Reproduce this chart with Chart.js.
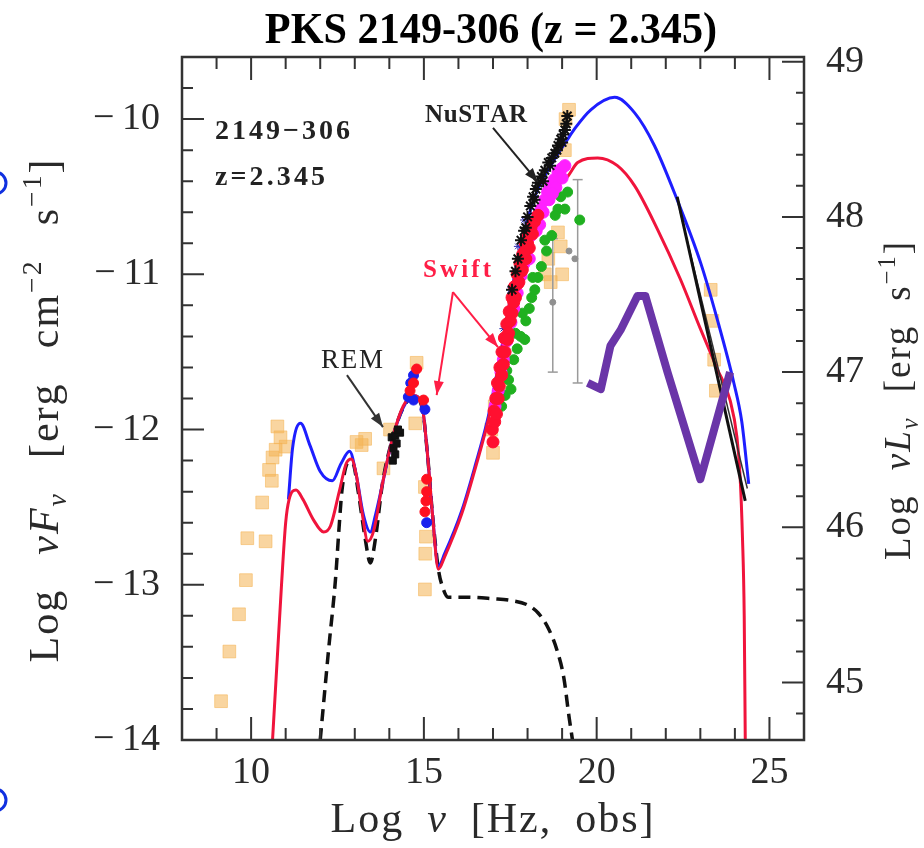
<!DOCTYPE html>
<html>
<head>
<meta charset="utf-8">
<script src="https://cdn.jsdelivr.net/npm/chart.js@4.4.1/dist/chart.umd.min.js"></script>
<style>
  html, body { margin: 0; padding: 0; background: #fff; }
  #wrap { width: 924px; height: 848px; position: relative; }
</style>
</head>
<body>
<div id="wrap"><canvas id="sedChart"></canvas></div>
<script>
// values, all in log10
const xTickValues = [10, 15, 20, 25];
const yTickValues = [-14, -13, -12, -11, -10];
const lumTickValues = [45, 46, 47, 48, 49];
const lumOffset = 58.63; // Log nuL_nu - Log nuF_nu

// model curves [log nu, log nuFnu]
const blueModel = [
  [11.08, -12.45], [11.2, -12.12], [11.43, -11.96], [11.7, -12.1], [12.0, -12.27], [12.35, -12.33],
  [12.6, -12.22], [12.85, -12.14], [13.05, -12.3], [13.25, -12.55], [13.45, -12.66], [13.6, -12.55],
  [13.85, -12.3], [14.1, -12.05], [14.4, -11.86], [14.7, -11.78], [14.95, -11.85], [15.1, -12.15],
  [15.25, -12.55], [15.42, -12.88], [15.6, -12.8], [16.1, -12.52], [16.5, -12.22], [16.86, -11.92],
  [17.23, -11.5], [17.72, -10.9], [18.21, -10.5], [18.67, -10.3], [19.16, -10.13], [19.37, -10.06],
  [19.83, -9.94], [20.52, -9.86], [21.1, -9.96], [21.67, -10.17], [22.33, -10.52], [23.0, -10.92],
  [23.49, -11.29], [23.97, -11.7], [24.2, -11.95], [24.4, -12.35]
];
const redModel = [
  [10.62, -14.0], [10.75, -13.5], [10.88, -13.0], [11.0, -12.6], [11.1, -12.45], [11.3, -12.39],
  [11.5, -12.45], [11.8, -12.58], [12.1, -12.66], [12.3, -12.62], [12.55, -12.4], [12.75, -12.22],
  [12.9, -12.19], [13.05, -12.3], [13.2, -12.52], [13.38, -12.72], [13.55, -12.65], [13.8, -12.35],
  [14.1, -12.05], [14.4, -11.85], [14.7, -11.78], [14.95, -11.85], [15.1, -12.15], [15.25, -12.55],
  [15.42, -12.9], [15.6, -12.82], [16.1, -12.54], [16.5, -12.24], [16.86, -11.94], [17.23, -11.53],
  [17.72, -10.97], [18.2, -10.64], [18.7, -10.46], [19.16, -10.37], [19.45, -10.28], [20.03, -10.25],
  [20.6, -10.3], [21.1, -10.43], [21.76, -10.71], [22.42, -11.03], [23.0, -11.35], [23.49, -11.61],
  [23.86, -11.81], [24.06, -12.05], [24.15, -12.3], [24.22, -12.7], [24.27, -13.2], [24.3, -14.0]
];
const diskTorus = [
  [12.0, -14.0], [12.25, -13.4], [12.44, -12.97], [12.54, -12.65], [12.63, -12.39], [12.82, -12.21],
  [12.95, -12.22], [13.1, -12.4], [13.3, -12.7], [13.45, -12.86], [13.6, -12.7], [13.8, -12.35],
  [14.1, -12.05], [14.4, -11.86], [14.7, -11.79], [14.95, -11.86], [15.1, -12.15], [15.25, -12.55],
  [15.42, -12.9], [15.55, -13.02], [15.7, -13.08], [16.2, -13.08], [17.0, -13.09], [17.5, -13.1],
  [18.0, -13.13], [18.3, -13.18], [18.6, -13.28], [18.85, -13.42], [19.05, -13.6], [19.2, -13.85], [19.3, -14.0]
];
const fermiBowtie = [[22.33, -10.5], [24.3, -12.46]];
const fermiBowtie2 = [[22.4, -10.58], [24.36, -12.38]];
const purpleLine = [
  [19.74, -11.7], [20.12, -11.74], [20.4, -11.46], [20.69, -11.36], [21.18, -11.14], [21.41, -11.14],
  [22.05, -11.63], [23.0, -12.32], [23.4, -12.0], [23.86, -11.63]
];

// data points
const archival = [
  [9.13, -13.75], [9.37, -13.43], [9.65, -13.19], [9.85, -12.97], [9.89, -12.7], [10.42, -12.72],
  [10.32, -12.47], [10.52, -12.26], [10.62, -12.18], [10.71, -12.13], [10.76, -11.98], [11.0, -12.11],
  [10.85, -12.05], [10.6, -12.33], [13.05, -12.08], [13.2, -12.1], [13.3, -12.06], [13.83, -12.25],
  [14.02, -12.0], [14.75, -11.96], [14.79, -11.57], [15.03, -12.37], [15.06, -12.69], [15.04, -12.8],
  [15.03, -13.03], [16.95, -12.0], [17.0, -12.15], [17.05, -11.85], [17.3, -11.7], [18.5, -11.0],
  [18.6, -10.9], [18.88, -10.73], [18.96, -10.82], [19.0, -11.0], [18.67, -11.05], [19.1, -10.0],
  [19.2, -9.94], [19.08, -10.2], [23.3, -11.1], [23.35, -11.3], [23.4, -11.55], [23.45, -11.75]
];
const remPts = [
  [14.07, -12.05], [14.12, -12.12], [14.17, -12.04], [14.21, -12.09], [14.17, -12.16], [14.31, -12.02],
  [14.25, -12.0], [14.1, -12.2]
];
const uvotRed = [
  [14.79, -11.61], [14.7, -11.7], [14.6, -11.75], [14.99, -11.81], [15.08, -12.32], [15.08, -12.4],
  [15.06, -12.46], [15.03, -12.53]
];
const uvotBlue = [[14.7, -11.65], [14.55, -11.79], [14.7, -11.81], [15.03, -11.87], [15.08, -12.6], [14.62, -11.7]];
const xrtPts = [
  [16.98, -12.0], [17.03, -11.88], [17.08, -11.8], [17.13, -11.7], [17.2, -11.6], [17.26, -11.5],
  [17.33, -11.41], [17.4, -11.32], [17.47, -11.24], [17.55, -11.15], [17.62, -11.08], [17.7, -11.0],
  [17.78, -10.93], [17.86, -10.87], [17.93, -10.8], [18.02, -10.75], [18.1, -10.7], [18.2, -10.66],
  [18.3, -10.62], [17.05, -11.95], [17.15, -11.8], [17.25, -11.65], [17.35, -11.5], [17.45, -11.38],
  [17.55, -11.25], [17.65, -11.15], [17.75, -11.05], [17.85, -10.97], [17.95, -10.9], [18.05, -10.83],
  [17.0, -12.08], [17.1, -11.9], [17.18, -11.72], [17.3, -11.58], [17.42, -11.42], [17.5, -11.3],
  [17.6, -11.18], [17.72, -11.06], [17.82, -10.98], [17.9, -10.86], [18.0, -10.8], [18.14, -10.74]
];
const magentaPts = [
  [17.06, -11.85], [17.15, -11.75], [17.23, -11.63], [17.3, -11.55], [17.4, -11.43], [17.52, -11.31],
  [17.6, -11.22], [17.7, -11.12], [17.81, -11.01], [17.9, -10.93], [18.0, -10.84], [18.1, -10.75],
  [18.2, -10.68], [18.3, -10.62], [18.39, -10.58], [18.5, -10.52], [18.58, -10.47], [18.67, -10.43],
  [18.77, -10.39], [18.88, -10.34], [18.98, -10.32], [19.08, -10.3], [18.25, -10.72], [18.45, -10.6],
  [18.62, -10.52], [18.82, -10.44], [19.0, -10.38], [18.05, -10.9], [18.35, -10.68], [18.72, -10.48]
];
const nustarPts = [
  [17.55, -11.1], [17.65, -10.98], [17.72, -10.9], [17.81, -10.78], [17.9, -10.72], [18.0, -10.63],
  [18.08, -10.56], [18.16, -10.5], [18.24, -10.45], [18.3, -10.41], [18.4, -10.37], [18.5, -10.33],
  [18.6, -10.28], [18.7, -10.25], [18.79, -10.22], [18.88, -10.17], [18.96, -10.13], [19.03, -10.1],
  [19.08, -10.07], [19.12, -10.03], [19.15, -9.98], [18.45, -10.4], [18.65, -10.3], [18.85, -10.2],
  [19.0, -10.15], [18.2, -10.52], [17.95, -10.7]
];
const batBluePts = [[17.2, -11.5], [17.3, -11.35], [17.5, -11.1], [17.72, -10.82], [17.9, -10.65]];
const greenPts = [
  [17.25, -11.85], [17.35, -11.78], [17.45, -11.68], [17.52, -11.74], [17.6, -11.55], [17.7, -11.48],
  [17.8, -11.4], [17.92, -11.42], [17.95, -11.3], [18.05, -11.22], [18.12, -11.15], [18.21, -11.1],
  [18.3, -11.02], [18.4, -10.95], [18.55, -10.85], [18.7, -10.75], [18.88, -10.58], [18.96, -10.5],
  [19.08, -10.58], [19.16, -10.47], [19.51, -10.65], [17.4, -11.62], [17.65, -11.38], [17.85, -11.25],
  [18.15, -11.02], [18.5, -10.78], [18.8, -10.62]
];
const greyPts = [[18.73, -11.18], [19.37, -10.9], [19.2, -10.85]];
const greyBars = [[18.73, -10.77, -11.63], [19.45, -10.39, -11.7]]; // x, top, bottom

const xy = pts => pts.map(p => ({ x: p[0], y: p[1] }));

function curve(pts, color, width, order, extra) {
  return Object.assign({
    data: xy(pts), showLine: true, borderColor: color, borderWidth: width,
    pointRadius: 0, fill: false, cubicInterpolationMode: 'monotone', order: order
  }, extra || {});
}
function dots(pts, color, style, r, order) {
  return {
    data: xy(pts), showLine: false, pointStyle: style, pointRadius: r,
    backgroundColor: color, borderColor: color, borderWidth: 1, order: order
  };
}

const datasets = [
  Object.assign(dots(nustarPts, '#111', 'star', 6, 1), { borderWidth: 2 }),
  dots(xrtPts, '#ff1030', 'circle', 6, 2),
  dots(magentaPts, '#ff20ff', 'circle', 6, 3),
  dots(batBluePts, '#2a2ab0', 'star', 4, 2),
  dots(greenPts, '#20b020', 'circle', 5, 4),
  dots(greyPts, '#909090', 'circle', 3, 2),
  dots(remPts, '#111', 'rect', 5, 1),
  dots(uvotRed, '#ff1020', 'circle', 5, 1),
  dots(uvotBlue, '#1a20ee', 'circle', 5, 1),
  curve(purpleLine, '#6a35a8', 8, 4, { cubicInterpolationMode: 'default', tension: 0, borderJoinStyle: 'round' }),
  curve(fermiBowtie, '#111', 3, 5, { cubicInterpolationMode: 'default', tension: 0 }),
  curve(fermiBowtie2, '#333', 1.5, 5, { cubicInterpolationMode: 'default', tension: 0 }),
  curve(redModel, '#f0143c', 3, 6),
  curve(blueModel, '#1e1eff', 3, 7),
  curve(diskTorus, '#111', 3.5, 8, { borderDash: [12, 7] }),
  dots(archival, 'rgba(244,178,82,0.55)', 'rect', 9, 10)
];
greyBars.forEach(b => {
  datasets.push({
    data: [{ x: b[0], y: b[1] }, { x: b[0], y: b[2] }], showLine: true,
    borderColor: '#9a9a9a', borderWidth: 1.5, pointStyle: 'line', pointRadius: 5,
    pointBorderColor: '#9a9a9a', pointBorderWidth: 1.5, order: 9
  });
});

// text helpers: runs may be sub/sup (s) or italic (i); extra room goes to the spaces
function drawRich(ctx, runs, size, family, cx, cy, targetW, angle, ls) {
  const parts = [];
  let natural = 0, spaces = 0;
  ls = ls || 0;
  runs.forEach(r => {
    const fs = r.s ? size * 0.66 : size;
    const font = (r.i ? 'italic ' : '') + fs + 'px ' + family;
    ctx.font = font;
    for (const ch of r.t) {
      const w = ctx.measureText(ch).width + ls;
      parts.push({ ch, font, w, dy: r.s === 'sub' ? size * 0.2 : (r.s === 'sup' ? -size * 0.4 : 0) });
      natural += w;
      if (ch === ' ') spaces++;
    }
  });
  const extra = spaces ? Math.max(0, (targetW - natural) / spaces) : 0;
  const total = natural + extra * spaces;
  ctx.save();
  ctx.translate(cx, cy);
  ctx.rotate(angle || 0);
  ctx.textAlign = 'left';
  ctx.textBaseline = 'alphabetic';
  let x = -total / 2;
  parts.forEach(p => {
    ctx.font = p.font;
    ctx.fillText(p.ch, x, size * 0.33 + p.dy);
    x += p.w + (p.ch === ' ' ? extra : 0);
  });
  ctx.restore();
}
function drawSpaced(ctx, text, font, x, y, targetW, align) {
  ctx.font = font;
  const chars = [...text];
  const widths = chars.map(c => ctx.measureText(c).width);
  const natural = widths.reduce((a, b) => a + b, 0);
  const ls = chars.length > 1 ? (targetW - natural) / (chars.length - 1) : 0;
  let px = align === 'center' ? x - targetW / 2 : x;
  ctx.textAlign = 'left';
  ctx.textBaseline = 'alphabetic';
  chars.forEach((c, i) => { ctx.fillText(c, px, y); px += widths[i] + ls; });
}
function arrow(ctx, x1, y1, x2, y2, color, head) {
  ctx.save();
  ctx.strokeStyle = color; ctx.fillStyle = color; ctx.lineWidth = 2;
  ctx.beginPath(); ctx.moveTo(x1, y1); ctx.lineTo(x2, y2); ctx.stroke();
  if (head) {
    const a = Math.atan2(y2 - y1, x2 - x1);
    ctx.beginPath();
    ctx.moveTo(x2, y2);
    ctx.lineTo(x2 - 14 * Math.cos(a) + 5 * Math.sin(a), y2 - 14 * Math.sin(a) - 5 * Math.cos(a));
    ctx.lineTo(x2 - 14 * Math.cos(a) - 5 * Math.sin(a), y2 - 14 * Math.sin(a) + 5 * Math.cos(a));
    ctx.closePath(); ctx.fill();
  }
  ctx.restore();
}

const framePlugin = {
  id: 'sedFrame',
  afterDraw(chart) {
    const ctx = chart.ctx;
    const { left, right, top, bottom } = chart.chartArea;
    const sx = chart.scales.x, sy = chart.scales.y, sy2 = chart.scales.y2;
    const px = v => sx.getPixelForValue(v), py = v => sy.getPixelForValue(v);
    ctx.save();
    // frame + inward ticks
    ctx.strokeStyle = '#333';
    ctx.lineWidth = 2.5;
    ctx.strokeRect(left, top, right - left, bottom - top);
    ctx.lineWidth = 2;
    ctx.beginPath();
    for (let v = 8; v <= 26; v++) {
      const len = xTickValues.includes(v) ? 23 : 12;
      const x = px(v);
      ctx.moveTo(x, bottom); ctx.lineTo(x, bottom - len);
      ctx.moveTo(x, top); ctx.lineTo(x, top + len);
    }
    for (let k = 0; k <= 22; k++) {
      const v = -14 + k * 0.2;
      const major = Math.abs(v - Math.round(v)) < 1e-6;
      const y = py(v);
      ctx.moveTo(left, y); ctx.lineTo(left + (major ? 22 : 11), y);
    }
    for (let k = 0; k <= 21; k++) {
      const v = 44.8 + k * 0.2;
      const major = Math.abs(v - Math.round(v)) < 1e-6;
      const y = sy2.getPixelForValue(v);
      ctx.moveTo(right, y); ctx.lineTo(right - (major ? 22 : 8), y);
    }
    ctx.stroke();

    // title
    ctx.fillStyle = '#000';
    ctx.save();
    ctx.translate(491, 43);
    ctx.scale(0.96, 1);
    ctx.font = 'bold 44px "Liberation Serif"';
    ctx.textAlign = 'center';
    ctx.textBaseline = 'alphabetic';
    ctx.fillText('PKS 2149-306 (z = 2.345)', 0, 0);
    ctx.restore();

    // axis titles
    ctx.fillStyle = '#2a2a2a';
    drawRich(ctx, [{ t: 'Log ' }, { t: '\u03bdF', i: true }, { t: '\u03bd', s: 'sub', i: true }, { t: ' [erg cm' }, { t: '\u22122', s: 'sup' }, { t: ' s' }, { t: '\u22121', s: 'sup' }, { t: ']' }],
      42, '"Liberation Serif"', 44, 410, 505, -Math.PI / 2, 2);
    drawRich(ctx, [{ t: 'Log ' }, { t: '\u03bdL', i: true }, { t: '\u03bd', s: 'sub', i: true }, { t: ' [erg s' }, { t: '\u22121', s: 'sup' }, { t: ']' }],
      37, '"Liberation Serif"', 898, 400, 320, -Math.PI / 2, 2);
    drawRich(ctx, [{ t: 'Log ' }, { t: '\u03bd', i: true }, { t: ' [Hz, obs]' }], 42, '"Liberation Serif"', 493, 818, 325, 0, 2);

    // annotations
    ctx.fillStyle = '#222';
    drawSpaced(ctx, '2149\u2212306', 'bold 28px "Liberation Serif"', px(8.955), py(-10.128), 135, 'left');
    drawSpaced(ctx, 'z=2.345', 'bold 28px "Liberation Serif"', px(8.955), py(-10.425), 110, 'left');
    drawSpaced(ctx, 'NuSTAR', 'bold 25px "Liberation Serif"', px(16.507), py(-10.019), 102, 'center');
    drawSpaced(ctx, 'REM', '27px "Liberation Serif"', px(12.919), py(-11.604), 62, 'center');
    ctx.fillStyle = '#ff1e46';
    drawSpaced(ctx, 'Swift', 'bold 25px "Liberation Serif"', px(15.957), py(-11.018), 68, 'center');

    arrow(ctx, px(17.0), py(-10.057), px(18.3), py(-10.405), '#222', true);
    arrow(ctx, px(12.774), py(-11.649), px(13.816), py(-11.984), '#333', true);
    arrow(ctx, px(15.841), py(-11.114), px(15.37), py(-11.778), '#ff1e46', true);
    arrow(ctx, px(15.841), py(-11.114), px(17.143), py(-11.469), '#ff1e46', true);

    // clipped blue rings at the left edge of the slide
    ctx.strokeStyle = '#1030e0';
    ctx.lineWidth = 3;
    ctx.beginPath(); ctx.arc(-5, 183, 11, -Math.PI / 2, Math.PI / 2); ctx.stroke();
    ctx.beginPath(); ctx.arc(-5, 800, 11, -Math.PI / 2, Math.PI / 2); ctx.stroke();
    ctx.restore();
  }
};

const tickFont = { family: 'Liberation Serif', size: 38 };
const sedChart = new Chart(document.getElementById('sedChart'), {
  type: 'scatter',
  data: { datasets: datasets },
  options: {
    responsive: true,
    maintainAspectRatio: false,
    animation: false,
    layout: { padding: { top: 57, left: 0, right: 0, bottom: 0 }, autoPadding: false },
    plugins: { legend: { display: false }, tooltip: { enabled: false }, title: { display: false } },
    scales: {
      x: {
        type: 'linear', position: 'bottom', min: 8, max: 26,
        grid: { display: false, drawTicks: false }, border: { display: false },
        ticks: { font: tickFont, color: '#2a2a2a', padding: 10, maxRotation: 0 },
        afterBuildTicks: s => { s.ticks = xTickValues.map(v => ({ value: v })); },
        afterFit: s => { s.height = 108; }
      },
      y: {
        type: 'linear', position: 'left', min: -14, max: -9.6,
        grid: { display: false, drawTicks: false }, border: { display: false },
        ticks: { font: tickFont, color: '#2a2a2a', padding: 22, callback: v => '\u2212\u2009' + Math.abs(v) },
        afterBuildTicks: s => { s.ticks = yTickValues.map(v => ({ value: v })); },
        afterFit: s => { s.width = 182; }
      },
      y2: {
        type: 'linear', position: 'right', min: -14 + lumOffset, max: -9.6 + lumOffset,
        grid: { display: false, drawTicks: false }, border: { display: false },
        ticks: { font: tickFont, color: '#2a2a2a', padding: 22 },
        afterBuildTicks: s => { s.ticks = lumTickValues.map(v => ({ value: v })); },
        afterFit: s => { s.width = 120; }
      }
    }
  },
  plugins: [framePlugin]
});
</script>
</body>
</html>
